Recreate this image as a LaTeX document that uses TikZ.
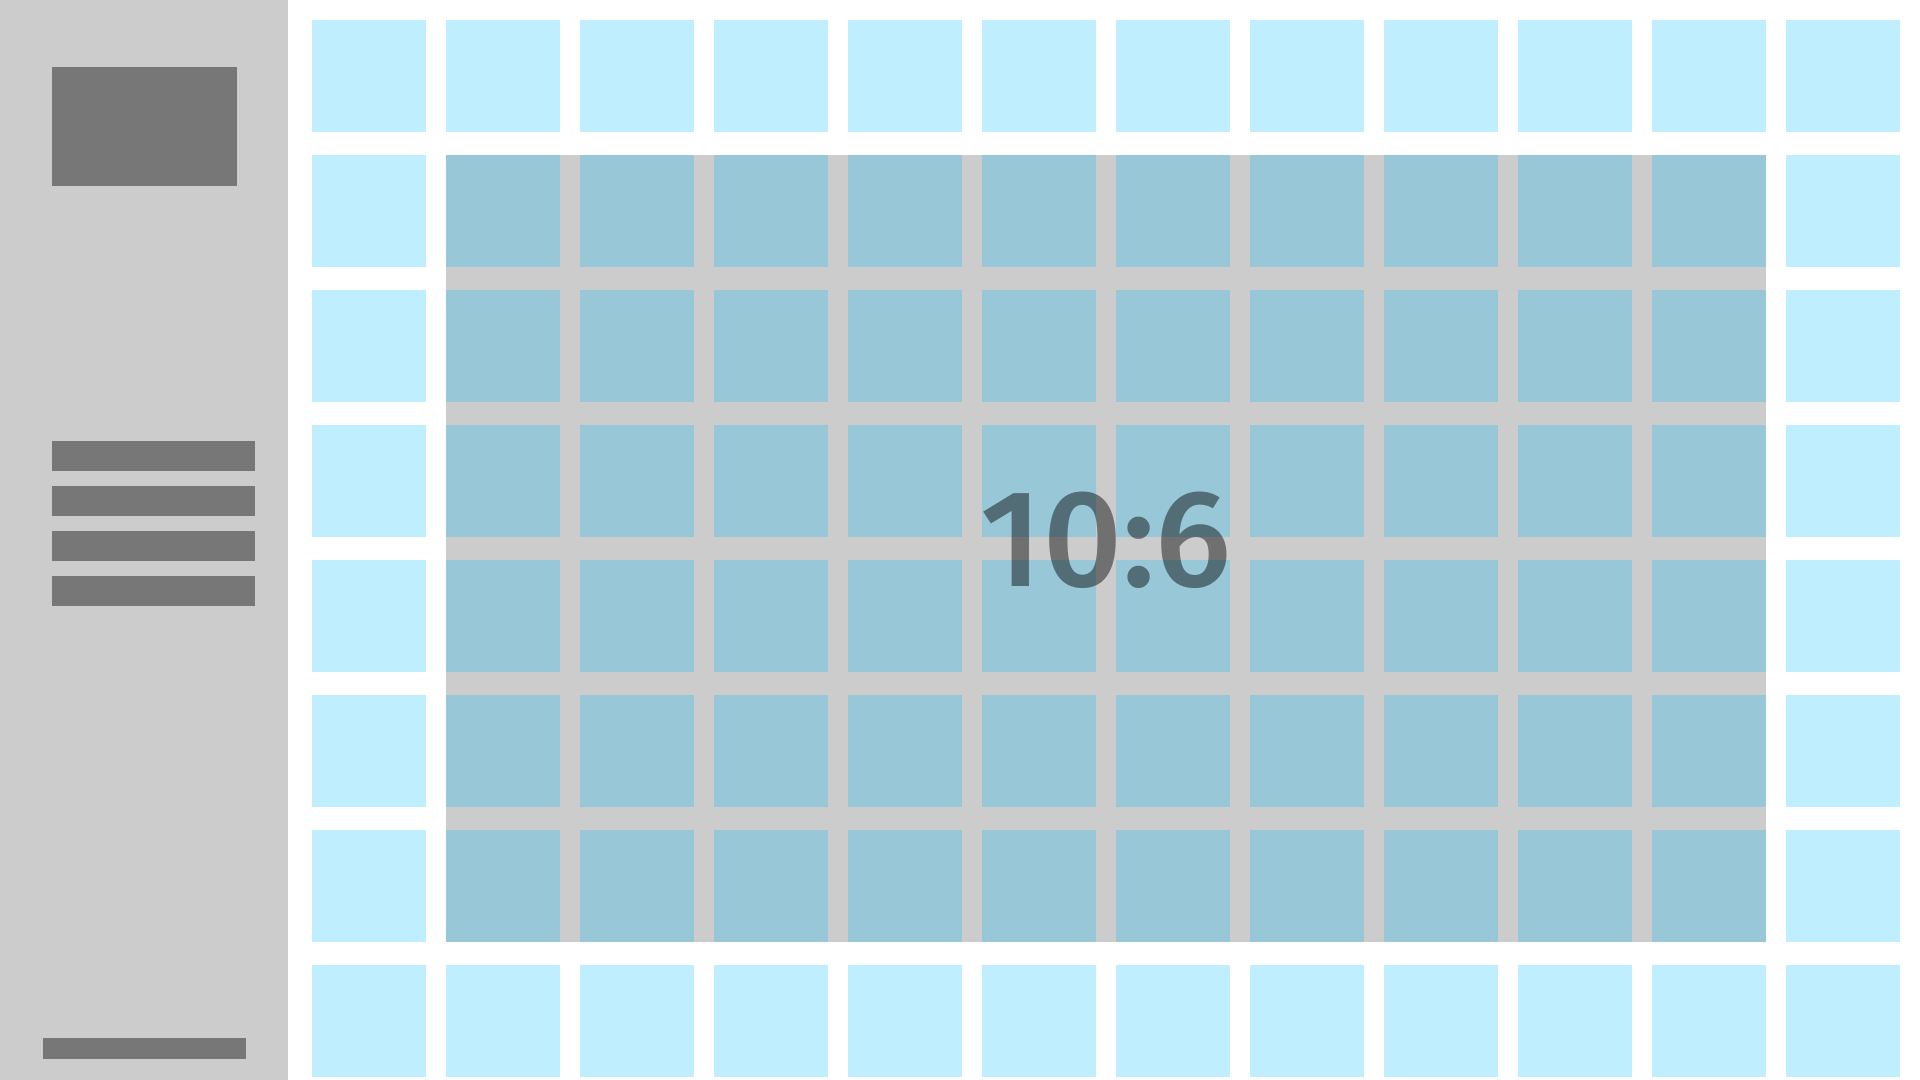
\documentclass[tikz,border=0pt]{standalone}
\usepackage{fontspec}
\newfontfamily\clockfont{Fira Sans Medium}
\definecolor{panelgray}{HTML}{CCCCCC}
\definecolor{bardark}{HTML}{777777}
\definecolor{tilecyan}{HTML}{BFEFFF}
\definecolor{tileblue}{HTML}{98C8D8}
\begin{document}
\begin{tikzpicture}[x=0.5pt, y=-0.5pt,
  panel/.style={fill=panelgray},
  bar/.style={fill=bardark},
  tile/.style={fill=tilecyan},
  innertile/.style={fill=tileblue},
  clock/.style={font=\clockfont\fontsize{69}{69}\selectfont, text=black, text opacity=0.45, inner sep=0pt}
]
\useasboundingbox[fill=white] (0,0) rectangle (1920,1080);
% side panel
\fill[panel] (0,0) rectangle (288,1080);
\fill[bar] (52,67) rectangle (237,186);
\foreach \y in {441,486,531,576}
  \fill[bar] (52,\y) rectangle (255,\y+30);
\fill[bar] (43,1038) rectangle (246,1059);
% tile grid
\foreach \i in {0,...,11}
  \foreach \j in {0,...,7}
    \fill[tile] (312+134*\i,20+135*\j) rectangle ++(114,112);
% inner block
\fill[panel] (446,155) rectangle (1766,942);
\foreach \i in {1,...,10}
  \foreach \j in {1,...,6}
    \fill[innertile] (312+134*\i,20+135*\j) rectangle ++(114,112);
\node[clock] (ratio) at (1106,540) {10:6};
\end{tikzpicture}
\end{document}
